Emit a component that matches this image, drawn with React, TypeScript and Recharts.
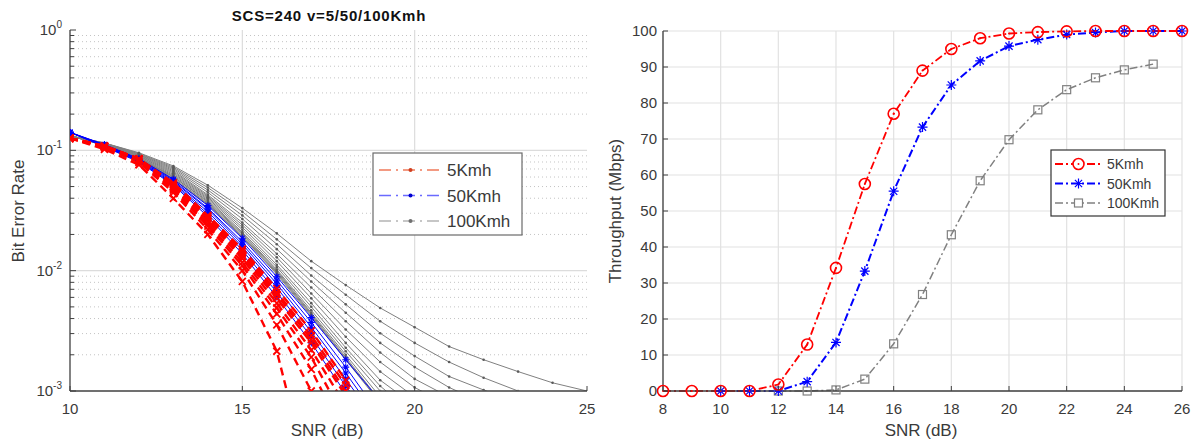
import React from 'react';
import { LineChart, Line, XAxis, YAxis, CartesianGrid, ReferenceLine } from 'recharts';

// ---------- Left panel: BER vs SNR ----------
const SNR_BER = [10, 11, 12, 13, 14, 15, 16, 17, 18, 19, 20, 21, 22, 23, 24, 25];
const BER_X_TICKS = [10, 15, 20, 25];
const BER_MAJOR_TICKS = [0.001, 0.01, 0.1, 1];
const BER_MINOR_TICKS = [
  0.002, 0.003, 0.004, 0.005, 0.006, 0.007, 0.008, 0.009,
  0.02, 0.03, 0.04, 0.05, 0.06, 0.07, 0.08, 0.09,
  0.2, 0.3, 0.4, 0.5, 0.6, 0.7, 0.8, 0.9,
];

const BER_5KMH: number[][] = [
  [0.126, 0.102, 0.0759, 0.0398, 0.0200, 0.00813, 0.00214, 0.000158],
  [0.126, 0.105, 0.0794, 0.0447, 0.0219, 0.0100, 0.00355, 0.00100, 0.000251],
  [0.126, 0.107, 0.0813, 0.0468, 0.0234, 0.0110, 0.00437, 0.00151, 0.000398],
  [0.126, 0.107, 0.0832, 0.0479, 0.0245, 0.0117, 0.00490, 0.00191, 0.000562],
  [0.126, 0.108, 0.0851, 0.0490, 0.0257, 0.0126, 0.00537, 0.00219, 0.000759],
  [0.126, 0.108, 0.0851, 0.0501, 0.0269, 0.0132, 0.00589, 0.00251, 0.000912],
  [0.126, 0.108, 0.0851, 0.0513, 0.0275, 0.0138, 0.00631, 0.00269, 0.00100, 0.000355],
  [0.126, 0.109, 0.0851, 0.0525, 0.0282, 0.0145, 0.00661, 0.00288, 0.00112, 0.000398],
  [0.126, 0.109, 0.0851, 0.0537, 0.0288, 0.0151, 0.00708, 0.00316, 0.00123, 0.000447],
];

const BER_50KMH: number[][] = [
  [0.141, 0.112, 0.0851, 0.0575, 0.0347, 0.0186, 0.00891, 0.00407, 0.00182, 0.000832],
  [0.141, 0.111, 0.0840, 0.0562, 0.0331, 0.0174, 0.00832, 0.00372, 0.00158, 0.000631],
  [0.141, 0.110, 0.0830, 0.0550, 0.0324, 0.0166, 0.00776, 0.00339, 0.00141, 0.000562],
  [0.141, 0.109, 0.0820, 0.0537, 0.0309, 0.0158, 0.00724, 0.00309, 0.00126, 0.000501],
  [0.141, 0.108, 0.0810, 0.0525, 0.0295, 0.0148, 0.00661, 0.00282, 0.00110, 0.000447],
  [0.141, 0.107, 0.0800, 0.0513, 0.0282, 0.0138, 0.00603, 0.00251, 0.000955],
];

const BER_100KMH: number[][] = [
  [0.132, 0.110, 0.0851, 0.0575, 0.0355, 0.0191, 0.00933, 0.00417, 0.00182, 0.000794],
  [0.132, 0.110, 0.0851, 0.0575, 0.0355, 0.0191, 0.00955, 0.00427, 0.00186, 0.000813],
  [0.132, 0.110, 0.0851, 0.0589, 0.0363, 0.0195, 0.00977, 0.00437, 0.00191, 0.000832],
  [0.132, 0.111, 0.0860, 0.0603, 0.0372, 0.0200, 0.0100, 0.00447, 0.00200, 0.000891],
  [0.132, 0.111, 0.0860, 0.0603, 0.0380, 0.0204, 0.0102, 0.00468, 0.00214, 0.00100, 0.000501],
  [0.132, 0.112, 0.0870, 0.0617, 0.0389, 0.0209, 0.0107, 0.00501, 0.00229, 0.00110, 0.000631],
  [0.132, 0.112, 0.0880, 0.0631, 0.0398, 0.0219, 0.0112, 0.00537, 0.00251, 0.00123, 0.000759],
  [0.132, 0.113, 0.0891, 0.0646, 0.0407, 0.0229, 0.0120, 0.00589, 0.00282, 0.00145, 0.000891],
  [0.132, 0.113, 0.0901, 0.0661, 0.0417, 0.0240, 0.0129, 0.00646, 0.00324, 0.00174, 0.00107, 0.000759],
  [0.132, 0.114, 0.0912, 0.0676, 0.0427, 0.0251, 0.0138, 0.00724, 0.00380, 0.00209, 0.00126, 0.000891],
  [0.132, 0.114, 0.0923, 0.0692, 0.0447, 0.0269, 0.0151, 0.00813, 0.00447, 0.00251, 0.00158, 0.00107, 0.000794],
  [0.132, 0.115, 0.0933, 0.0708, 0.0468, 0.0288, 0.0166, 0.00912, 0.00525, 0.00302, 0.00195, 0.00132, 0.00102, 0.000794],
  [0.132, 0.115, 0.0944, 0.0724, 0.0490, 0.0309, 0.0182, 0.0105, 0.00631, 0.00380, 0.00251, 0.00174, 0.00129, 0.00100, 0.000794],
  [0.132, 0.115, 0.0955, 0.0741, 0.0513, 0.0331, 0.0204, 0.0120, 0.00759, 0.00490, 0.00339, 0.00234, 0.00182, 0.00145, 0.00117, 0.00100],
];

// ---------- Right panel: Throughput vs SNR ----------
const SNR_TP = [8, 9, 10, 11, 12, 13, 14, 15, 16, 17, 18, 19, 20, 21, 22, 23, 24, 25, 26];
const TP_X_TICKS = [8, 10, 12, 14, 16, 18, 20, 22, 24, 26];
const TP_Y_TICKS = [0, 10, 20, 30, 40, 50, 60, 70, 80, 90, 100];
const TP_5KMH = [0, 0, 0, 0, 1.8, 12.9, 34.2, 57.5, 77, 89, 95, 98, 99.3, 99.7, 99.9, 100, 100, 100, 100];
const TP_50KMH = [null, null, 0, 0, 0, 2.6, 13.5, 33.3, 55.5, 73.3, 85, 91.7, 95.8, 97.6, 99, 99.6, 100, 100, 100];
const TP_100KMH = [null, null, null, null, 0, 0, 0.3, 3.3, 13.1, 26.8, 43.4, 58.4, 69.8, 78.1, 83.7, 87, 89.2, 90.8, null];

const FONT = '"Liberation Sans", Arial, Helvetica, sans-serif';
const TXT = '#3a3a3a';
const AX = '#404040';

const berSeries = (vals: number[]) =>
  SNR_BER.map((x, i) => ({ x, y: vals[i] })).filter((p) => p.y !== undefined && p.y !== null);
const tpSeries = (vals: (number | null)[]) =>
  SNR_TP.map((x, i) => ({ x, y: vals[i] })).filter((p) => p.y !== undefined && p.y !== null);

const ok = (p: any) => p && p.cx != null && p.cy != null && !isNaN(p.cx) && !isNaN(p.cy);

// markers
const RedX = (p: any) =>
  ok(p) ? (
    <path key={`rx${p.index}`} d={`M${p.cx - 3.5},${p.cy - 3.5}L${p.cx + 3.5},${p.cy + 3.5}M${p.cx - 3.5},${p.cy + 3.5}L${p.cx + 3.5},${p.cy - 3.5}`} stroke="#ff0000" strokeWidth={1.8} fill="none" />
  ) : <g key={`rx${p.index}`} />;
const BlueStarSmall = (p: any) =>
  ok(p) ? (
    <path key={`bs${p.index}`} d={`M${p.cx - 3.5},${p.cy}L${p.cx + 3.5},${p.cy}M${p.cx},${p.cy - 3.5}L${p.cx},${p.cy + 3.5}M${p.cx - 2.5},${p.cy - 2.5}L${p.cx + 2.5},${p.cy + 2.5}M${p.cx - 2.5},${p.cy + 2.5}L${p.cx + 2.5},${p.cy - 2.5}`} stroke="#0000ff" strokeWidth={1.1} fill="none" />
  ) : <g key={`bs${p.index}`} />;
const GrayDot = (p: any) =>
  ok(p) ? <circle key={`gd${p.index}`} cx={p.cx} cy={p.cy} r={1.3} fill="#5a5a5a" /> : <g key={`gd${p.index}`} />;

const RedCircle = (p: any) =>
  ok(p) ? (
    <g key={`rc${p.index}`}>
      <circle cx={p.cx} cy={p.cy} r={5.5} stroke="#ff0000" strokeWidth={1.6} fill="none" />
      <circle cx={p.cx} cy={p.cy} r={1} fill="#ff0000" />
    </g>
  ) : <g key={`rc${p.index}`} />;
const BlueStar = (p: any) =>
  ok(p) ? (
    <path key={`bt${p.index}`} d={`M${p.cx - 5},${p.cy}L${p.cx + 5},${p.cy}M${p.cx},${p.cy - 5}L${p.cx},${p.cy + 5}M${p.cx - 3.6},${p.cy - 3.6}L${p.cx + 3.6},${p.cy + 3.6}M${p.cx - 3.6},${p.cy + 3.6}L${p.cx + 3.6},${p.cy - 3.6}`} stroke="#0000ff" strokeWidth={1.2} fill="none" />
  ) : <g key={`bt${p.index}`} />;
const GraySquare = (p: any) =>
  ok(p) ? (
    <rect key={`gs${p.index}`} x={p.cx - 4} y={p.cy - 4} width={8} height={8} stroke="#808080" strokeWidth={1.2} fill="none" />
  ) : <g key={`gs${p.index}`} />;

// ticks (inward, MATLAB style)
const isMajor = (v: number) => BER_MAJOR_TICKS.indexOf(v) >= 0;
const BerLeftTick = (props: any) => {
  const { x, y, payload } = props;
  const v = payload.value;
  const major = isMajor(v);
  const exp = Math.round(Math.log10(v));
  return (
    <g>
      <line x1={x} x2={x + (major ? 6 : 4)} y1={y} y2={y} stroke={AX} strokeWidth={1} />
      {major && (
        <text x={x - 8} y={y + 5} textAnchor="end" fontSize={15} fill={TXT} fontFamily={FONT}>
          10<tspan dy={-7} fontSize={10}>{String(exp)}</tspan>
        </text>
      )}
    </g>
  );
};
const BerRightTick = (props: any) => {
  const { x, y, payload } = props;
  const major = isMajor(payload.value);
  return <line x1={x} x2={x - (major ? 6 : 4)} y1={y} y2={y} stroke={AX} strokeWidth={1} />;
};
const BottomTick = (props: any) => {
  const { x, y, payload } = props;
  return (
    <g>
      <line x1={x} x2={x} y1={y} y2={y - 5} stroke={AX} strokeWidth={1} />
      <text x={x} y={y + 23} textAnchor="middle" fontSize={15} fill={TXT} fontFamily={FONT}>{payload.value}</text>
    </g>
  );
};
const TopTick = (props: any) => {
  const { x, y } = props;
  return <line x1={x} x2={x} y1={y} y2={y + 5} stroke={AX} strokeWidth={1} />;
};
const TpLeftTick = (props: any) => {
  const { x, y, payload } = props;
  return (
    <g>
      <line x1={x} x2={x + 5} y1={y} y2={y} stroke={AX} strokeWidth={1} />
      <text x={x - 6} y={y + 5} textAnchor="end" fontSize={15} fill={TXT} fontFamily={FONT}>{payload.value}</text>
    </g>
  );
};
const TpRightTick = (props: any) => {
  const { x, y } = props;
  return <line x1={x} x2={x - 5} y1={y} y2={y} stroke={AX} strokeWidth={1} />;
};

const BerChart = () => (
  <LineChart width={600} height={441} margin={{ top: 30, right: 13, bottom: 0, left: 0 }}>
    <XAxis dataKey="x" type="number" domain={[10, 25]} ticks={BER_X_TICKS} interval={0} allowDataOverflow
      height={50} tickSize={0} tickMargin={0} tickLine={false} tick={<BottomTick />} axisLine={{ stroke: AX, strokeWidth: 1.3 }} />
    <XAxis xAxisId="top" orientation="top" dataKey="x" type="number" domain={[10, 25]} ticks={BER_X_TICKS} interval={0} allowDataOverflow
      height={0} tickSize={0} tickMargin={0} tickLine={false} tick={<TopTick />} axisLine={{ stroke: AX, strokeWidth: 1.3 }} />
    <YAxis scale="log" type="number" domain={[0.001, 1]} allowDataOverflow ticks={[...BER_MAJOR_TICKS, ...BER_MINOR_TICKS]}
      interval={0} width={70} tickSize={0} tickMargin={0} tickLine={false} tick={<BerLeftTick />} axisLine={{ stroke: AX, strokeWidth: 1.3 }} />
    <YAxis yAxisId="right" orientation="right" scale="log" type="number" domain={[0.001, 1]} allowDataOverflow
      ticks={[...BER_MAJOR_TICKS, ...BER_MINOR_TICKS]} interval={0} width={0} tickSize={0} tickMargin={0} tickLine={false}
      tick={<BerRightTick />} axisLine={{ stroke: AX, strokeWidth: 1.3 }} />
    {BER_MINOR_TICKS.map((v) => (
      <ReferenceLine key={`mn${v}`} y={v} stroke="#c4c4c4" strokeDasharray="1 3" strokeWidth={1} />
    ))}
    {[0.1, 0.01].map((v) => (
      <ReferenceLine key={`mj${v}`} y={v} stroke="#dcdcdc" strokeWidth={1.2} />
    ))}
    {[15, 20].map((v) => (
      <ReferenceLine key={`vx${v}`} x={v} stroke="#dcdcdc" strokeWidth={1.2} />
    ))}
    {BER_100KMH.map((vals, i) => (
      <Line key={`g${i}`} data={berSeries(vals)} dataKey="y" type="linear" stroke="#808080" strokeWidth={1}
        dot={GrayDot} activeDot={false} isAnimationActive={false} />
    ))}
    {BER_50KMH.map((vals, i) => (
      <Line key={`b${i}`} data={berSeries(vals)} dataKey="y" type="linear" stroke="#0000ff" strokeWidth={1}
        dot={BlueStarSmall} activeDot={false} isAnimationActive={false} />
    ))}
    {BER_5KMH.map((vals, i) => (
      <Line key={`r${i}`} data={berSeries(vals)} dataKey="y" type="linear" stroke="#ff0000" strokeWidth={2.4}
        strokeDasharray="8 5" dot={RedX} activeDot={false} isAnimationActive={false} />
    ))}
  </LineChart>
);

const TpChart = () => (
  <LineChart width={594} height={441} margin={{ top: 31, right: 12, bottom: 0, left: 0 }}>
    <CartesianGrid stroke="#e2e2e2" strokeWidth={1.2} />
    <XAxis dataKey="x" type="number" domain={[8, 26]} ticks={TP_X_TICKS} interval={0} height={50}
      tickSize={0} tickMargin={0} tickLine={false} tick={<BottomTick />} axisLine={{ stroke: AX, strokeWidth: 1.3 }} />
    <XAxis xAxisId="top" orientation="top" dataKey="x" type="number" domain={[8, 26]} ticks={TP_X_TICKS} interval={0} height={0}
      tickSize={0} tickMargin={0} tickLine={false} tick={<TopTick />} axisLine={{ stroke: AX, strokeWidth: 1.3 }} />
    <YAxis type="number" domain={[0, 100]} ticks={TP_Y_TICKS} interval={0} width={63}
      tickSize={0} tickMargin={0} tickLine={false} tick={<TpLeftTick />} axisLine={{ stroke: AX, strokeWidth: 1.3 }} />
    <YAxis yAxisId="right" orientation="right" type="number" domain={[0, 100]} ticks={TP_Y_TICKS} interval={0} width={0}
      tickSize={0} tickMargin={0} tickLine={false} tick={<TpRightTick />} axisLine={{ stroke: AX, strokeWidth: 1.3 }} />
    <Line data={tpSeries(TP_100KMH)} dataKey="y" type="linear" stroke="#808080" strokeWidth={1.5}
      strokeDasharray="8 3 2 3" dot={GraySquare} activeDot={false} isAnimationActive={false} />
    <Line data={tpSeries(TP_50KMH)} dataKey="y" type="linear" stroke="#0000ff" strokeWidth={2}
      strokeDasharray="8 3 2 3" dot={BlueStar} activeDot={false} isAnimationActive={false} />
    <Line data={tpSeries(TP_5KMH)} dataKey="y" type="linear" stroke="#ff0000" strokeWidth={1.8}
      strokeDasharray="8 3 2 3" dot={RedCircle} activeDot={false} isAnimationActive={false} />
  </LineChart>
);

const Overlay = () => (
  <svg width={1194} height={441} style={{ position: 'absolute', left: 0, top: 0, pointerEvents: 'none' }}>
    <text x={329} y={21} textAnchor="middle" fontSize={15} fontWeight="bold" letterSpacing={0.8} fill="#111" fontFamily={FONT}>
      SCS=240 v=5/50/100Kmh
    </text>
    <text transform="translate(24,211) rotate(-90)" textAnchor="middle" fontSize={17} fill={TXT} fontFamily={FONT}>Bit Error Rate</text>
    <text x={327} y={436} textAnchor="middle" fontSize={17} fill={TXT} fontFamily={FONT}>SNR (dB)</text>
    <text transform="translate(621,211) rotate(-90)" textAnchor="middle" fontSize={17} fill={TXT} fontFamily={FONT}>Throughput (Mbps)</text>
    <text x={921} y={436} textAnchor="middle" fontSize={17} fill={TXT} fontFamily={FONT}>SNR (dB)</text>

    {/* left legend */}
    <rect x={373} y={153} width={149} height={82} fill="#ffffff" stroke="#6a6a6a" strokeWidth={1.2} />
    {[
      { label: '5Kmh', c: '#f07a5a', d: '#d04020', y: 170 },
      { label: '50Kmh', c: '#6a6aff', d: '#0000d0', y: 195.5 },
      { label: '100Kmh', c: '#b4b4b4', d: '#707070', y: 221 },
    ].map((e) => (
      <g key={e.label}>
        <line x1={379} x2={442} y1={e.y} y2={e.y} stroke={e.c} strokeWidth={1.6} strokeDasharray="12 5 2 5" />
        <circle cx={410.5} cy={e.y} r={2} fill={e.d} />
        <text x={447} y={e.y + 6} fontSize={17} fill={TXT} fontFamily={FONT}>{e.label}</text>
      </g>
    ))}

    {/* right legend */}
    <rect x={1051} y={150} width={114} height={66} fill="#ffffff" stroke="#333" strokeWidth={1.2} />
    <line x1={1055} x2={1102} y1={164} y2={164} stroke="#ff0000" strokeWidth={1.8} strokeDasharray="8 3 2 3" />
    <circle cx={1078.5} cy={164} r={5.5} stroke="#ff0000" strokeWidth={1.6} fill="#fff" />
    <circle cx={1078.5} cy={164} r={1} fill="#ff0000" />
    <text x={1107} y={169} fontSize={14} fill={TXT} fontFamily={FONT}>5Kmh</text>
    <line x1={1055} x2={1102} y1={183.5} y2={183.5} stroke="#0000ff" strokeWidth={2} strokeDasharray="8 3 2 3" />
    <path d="M1073.5,183.5L1083.5,183.5M1078.5,178.5L1078.5,188.5M1074.9,179.9L1082.1,187.1M1074.9,187.1L1082.1,179.9" stroke="#0000ff" strokeWidth={1.2} />
    <text x={1107} y={188.5} fontSize={14} fill={TXT} fontFamily={FONT}>50Kmh</text>
    <line x1={1055} x2={1102} y1={203} y2={203} stroke="#808080" strokeWidth={1.5} strokeDasharray="8 3 2 3" />
    <rect x={1074.5} y={199} width={8} height={8} stroke="#808080" strokeWidth={1.2} fill="#fff" />
    <text x={1107} y={208} fontSize={14} fill={TXT} fontFamily={FONT}>100Kmh</text>
  </svg>
);

export default function App() {
  return (
    <div style={{ position: 'absolute', left: 0, top: 0, width: 1194, height: 441, background: '#ffffff', overflow: 'hidden' }}>
      <div style={{ position: 'absolute', left: 0, top: 0 }}>
        <BerChart />
      </div>
      <div style={{ position: 'absolute', left: 600, top: 0 }}>
        <TpChart />
      </div>
      <Overlay />
    </div>
  );
}
